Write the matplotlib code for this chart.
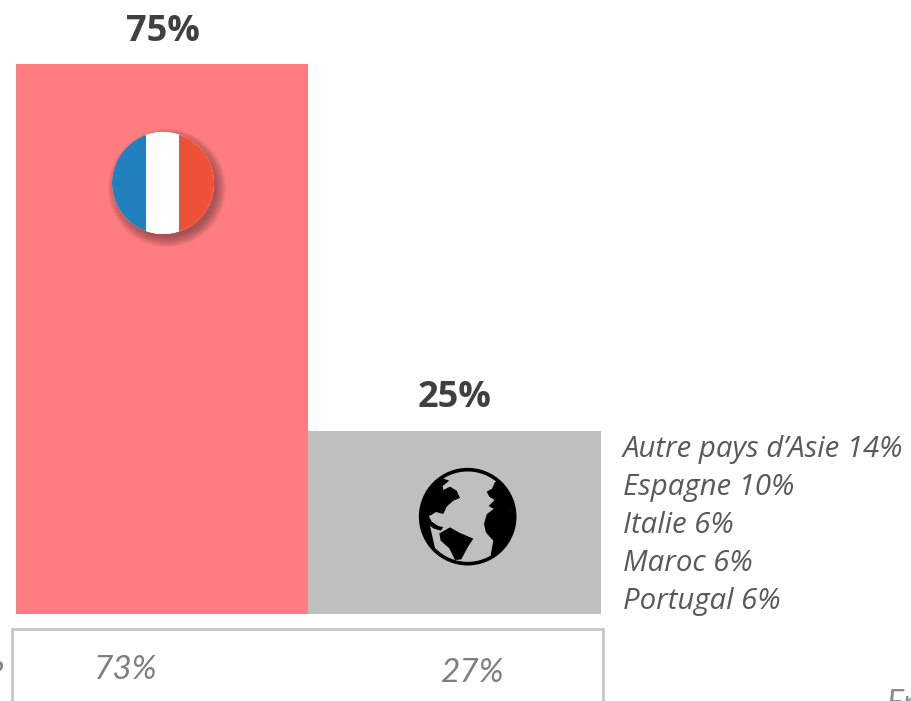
import matplotlib
matplotlib.use("Agg")
import matplotlib.pyplot as plt
from matplotlib.patches import Circle, Rectangle, Polygon

# main chart
categories = ["France", "Monde"]
shares = [75, 25]
bar_colors = ["#FF7C80", "#BFBFBF"]
share_labels = ["75%", "25%"]

# detail of the foreign countries
countries = ["Autre pays d’Asie 14%", "Espagne 10%", "Italie 6%", "Maroc 6%", "Portugal 6%"]

# box under the chart
box_labels = ["73%", "27%"]

W, H = 912, 701
fig = plt.figure(figsize=(W / 100, H / 100), dpi=100, facecolor="white")

ax = fig.add_axes([16 / W, 1 - 614 / H, (600.5 - 16) / W, (614 - 64) / H])
ax.bar(categories, shares, width=1, color=bar_colors)
ax.set_xlim(-0.5, 1.5)
ax.set_ylim(0, 75)
ax.axis("off")

# overlay in pixels for texts and icons
ov = fig.add_axes([0, 0, 1, 1])
ov.set_xlim(0, W)
ov.set_ylim(H, 0)
ov.axis("off")
ov.patch.set_alpha(0)

ov.text(163, 32, share_labels[0], family="Open Sans", weight="bold", fontsize=26,
        color="#404040", ha="center", va="center")
ov.text(455, 398, share_labels[1], family="Open Sans", weight="bold", fontsize=26,
        color="#404040", ha="center", va="center")

for i, c in enumerate(countries):
    ov.text(623, 449 + i * 38.2, c, family="Open Sans", style="italic", fontsize=21.2,
            color="#595959", ha="left", va="center")

# flag
cx, cy, r = 163, 183, 51
for k in range(12):
    ov.add_patch(Circle((cx + 4, cy + 5), r + 8 - k * 0.9, fc="#5f3436", ec="none", alpha=0.06))
disc = Circle((cx, cy), r, fc="white", ec="none")
ov.add_patch(disc)
for x0, w, col in [(cx - r, 33.7, "#2180BE"), (cx - r + 33.7, 33.6, "white"), (cx - r + 67.3, 35, "#EE5038")]:
    p = Rectangle((x0, cy - r), w, 2 * r, fc=col, ec="none")
    ov.add_patch(p)
    p.set_clip_path(disc)

# globe, points read from the icon
gx, gy = 400, 450
lands = [
    [(128, 85), (148, 92), (128, 108), (130, 120), (150, 110), (170, 122), (180, 144), (160, 152),
     (140, 170), (130, 192), (108, 186), (92, 196), (70, 200), (50, 195), (55, 115), (100, 85)],
    [(50, 190), (85, 195), (95, 215), (115, 228), (130, 232), (122, 242), (102, 236), (90, 228), (105, 295), (60, 265)],
    [(118, 250), (150, 232), (178, 248), (220, 266), (203, 292), (184, 328), (165, 330), (148, 295), (122, 272)],
    [(252, 222), (260, 193), (284, 174), (312, 172), (335, 182), (355, 186), (355, 220), (335, 258), (312, 290),
     (290, 320), (272, 315), (280, 272), (258, 248)],
    [(260, 125), (276, 116), (284, 98), (294, 90), (318, 112), (336, 150), (350, 165), (340, 184), (310, 174),
     (280, 176), (266, 168), (284, 150), (268, 140)],
]
ring_in = Circle((gx + 203 / 3, gy + 200 / 3), 46, fc="none", ec="none")
ov.add_patch(ring_in)
for pts in lands:
    p = Polygon([(gx + a / 3, gy + b / 3) for a, b in pts], closed=True, fc="black", ec="none")
    ov.add_patch(p)
    p.set_clip_path(ring_in)
ov.add_patch(Circle((gx + 203 / 3, gy + 200 / 3), 47, fc="none", ec="black", lw=2.6))

# bottom box, cut by the edge of the picture
ov.plot([12, 12, 603, 603], [H + 5, 629, 629, H + 5], color="#C8C8C8", lw=2, solid_joinstyle="miter")
ov.text(126, 670, box_labels[0], family="Lato", style="italic", fontsize=24,
        color="#7F7F7F", ha="center", va="center")
ov.text(472, 673, box_labels[1], family="Lato", style="italic", fontsize=24,
        color="#7F7F7F", ha="center", va="center")
ov.text(3, 676, "?", family="Lato", style="italic", fontsize=23,
        color="#7F7F7F", ha="right", va="center")
ov.text(886, 704, "En", family="Lato", style="italic", fontsize=23,
        color="#8C8C8C", ha="left", va="center")

fig.savefig("out.png", dpi=100)
